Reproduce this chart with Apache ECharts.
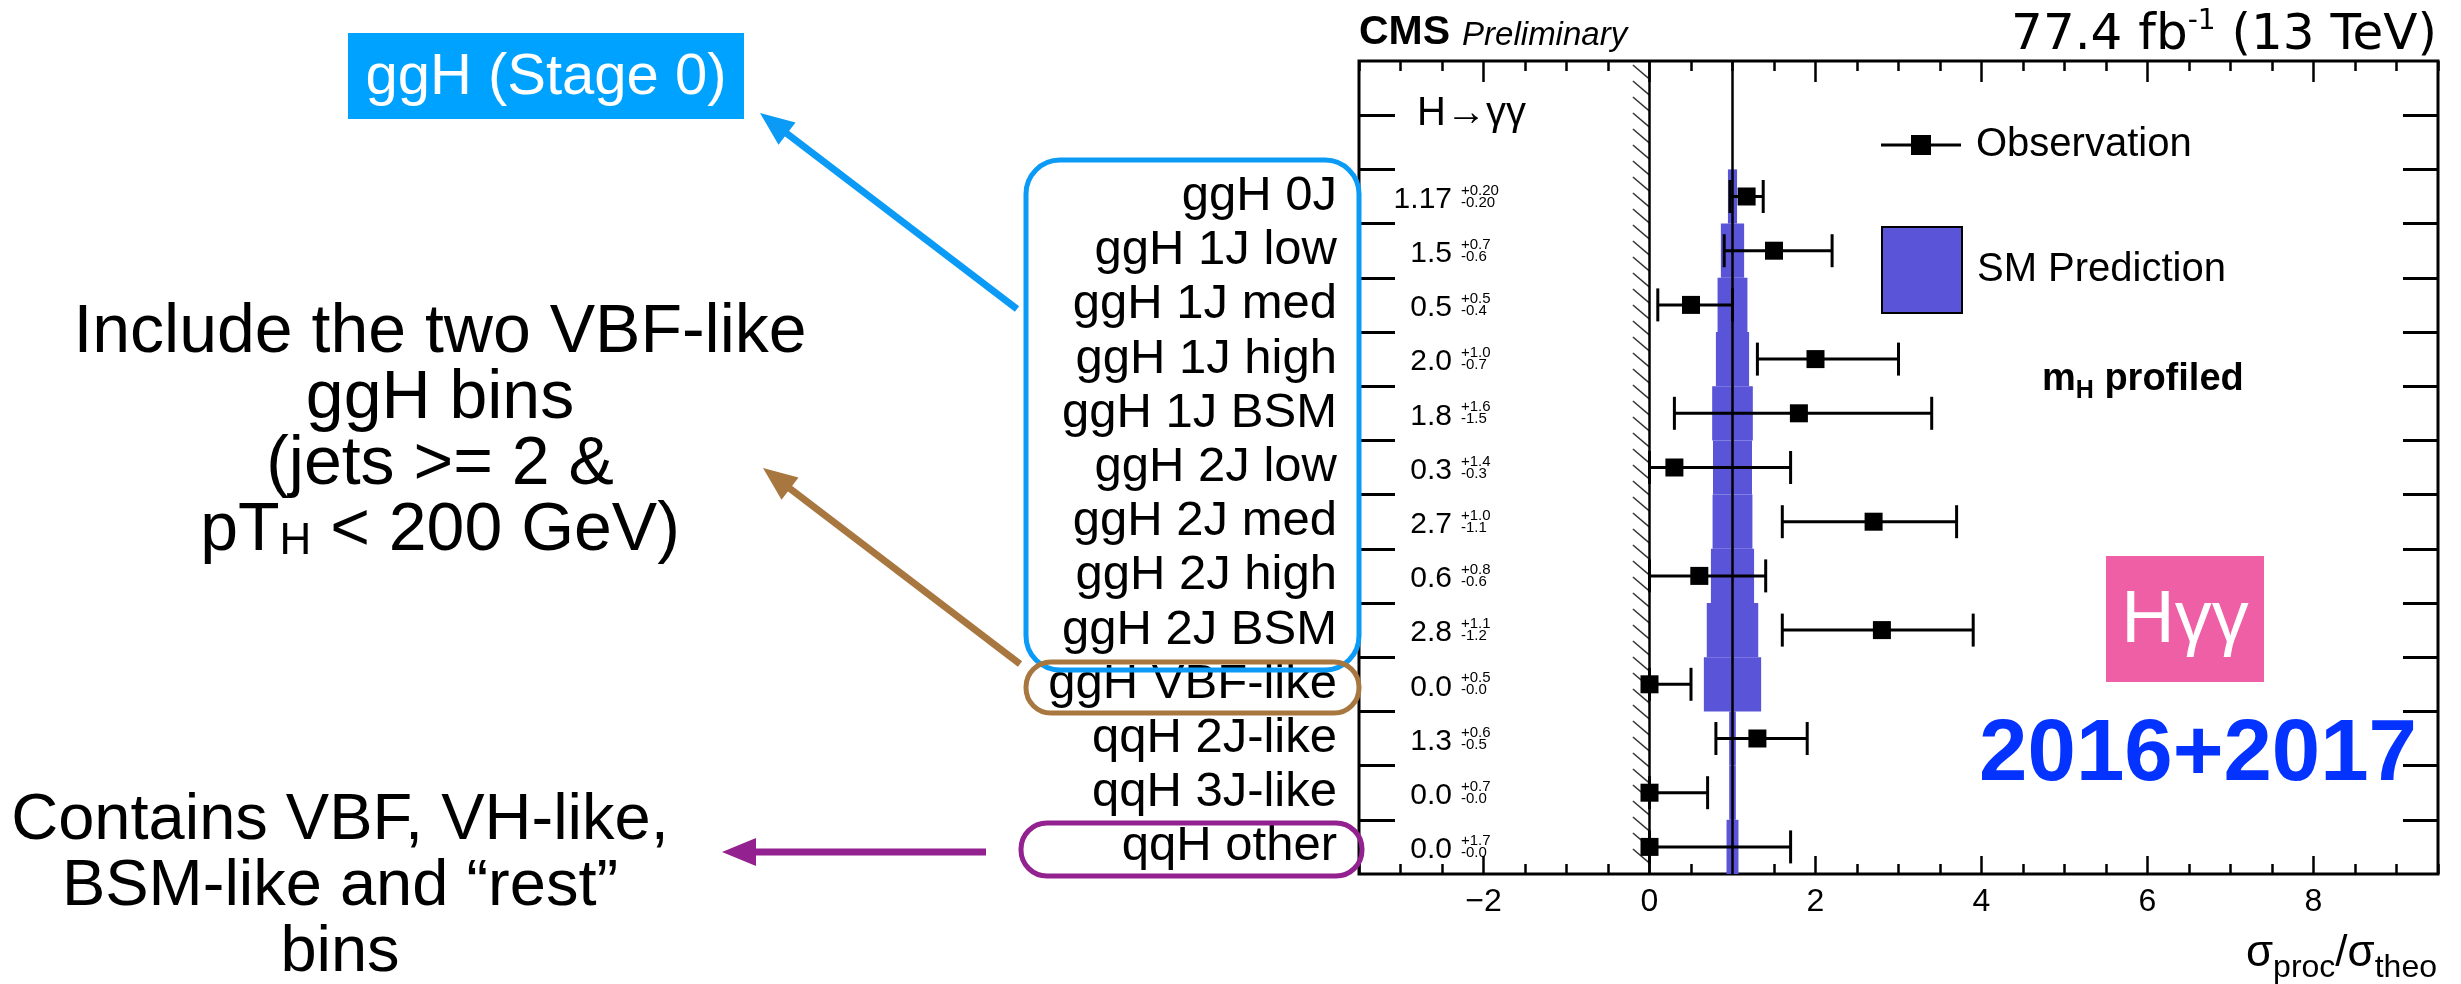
<!DOCTYPE html>
<html><head><meta charset="utf-8">
<script src="https://cdn.jsdelivr.net/npm/echarts@6/dist/echarts.min.js"></script>
<style>html,body{margin:0;padding:0;background:#fff}#c{width:2461px;height:984px}</style>
</head><body><div id="c"></div>
<script>
// ---------------- data ----------------
const categories = ['ggH 0J','ggH 1J low','ggH 1J med','ggH 1J high','ggH 1J BSM','ggH 2J low','ggH 2J med','ggH 2J high','ggH 2J BSM','ggH VBF-like','qqH 2J-like','qqH 3J-like','qqH other'];
const observed  = [1.17, 1.5, 0.5, 2.0, 1.8, 0.3, 2.7, 0.6, 2.8, 0.0, 1.3, 0.0, 0.0];
const errUp     = [0.20, 0.7, 0.5, 1.0, 1.6, 1.4, 1.0, 0.8, 1.1, 0.5, 0.6, 0.7, 1.7];
const errDown   = [0.20, 0.6, 0.4, 0.7, 1.5, 0.3, 1.1, 0.6, 1.2, 0.0, 0.5, 0.0, 0.0];
const valueText = ['1.17','1.5','0.5','2.0','1.8','0.3','2.7','0.6','2.8','0.0','1.3','0.0','0.0'];
const upText    = ['+0.20','+0.7','+0.5','+1.0','+1.6','+1.4','+1.0','+0.8','+1.1','+0.5','+0.6','+0.7','+1.7'];
const downText  = ['-0.20','-0.6','-0.4','-0.7','-1.5','-0.3','-1.1','-0.6','-1.2','-0.0','-0.5','-0.0','-0.0'];
const smPrediction = 1.0;
const smHalfWidth = [0.055, 0.14, 0.18, 0.20, 0.245, 0.235, 0.24, 0.26, 0.31, 0.345, 0.04, 0.04, 0.072];
const physicalLimit = 0;
const xMajorTicks = [-2, 0, 2, 4, 6, 8];
const xMinorTicks = [-3.5,-3,-2.5,-2,-1.5,-1,-0.5,0,0.5,1,1.5,2,2.5,3,3.5,4,4.5,5,5.5,6,6.5,7,7.5,8,8.5,9,9.5];
const yTicks = [1,2,3,4,5,6,7,8,9,10,11,12,13,14];

// ---------------- helpers ----------------
const FONT = '"Liberation Sans", Arial, Helvetica, sans-serif';
const WIDE = '"DejaVu Sans", "Liberation Sans", sans-serif';
const nRows = categories.length;
const yMax = nRows + 2;
const rowY = i => nRows - 0.5 - i;
const rowCenters = categories.map((c, i) => rowY(i));
const labelOf = v => { const i = Math.round(nRows - 0.5 - v); return categories[i] || ''; };

const obsData = categories.map((c, i) => [observed[i], rowY(i), observed[i] - errDown[i], observed[i] + errUp[i]]);
const bandData = categories.map((c, i) => [smPrediction - smHalfWidth[i], rowY(i), smPrediction + smHalfWidth[i]]);
const textData = categories.map((c, i) => [-3.5, rowY(i)]);

const BLUE = '#0b9bf6', BROWN = '#a8773f', PURPLE = '#93218f';

function arrow(x1, y1, x2, y2, color) {
  const dx = x2 - x1, dy = y2 - y1, L = Math.hypot(dx, dy);
  const ux = dx / L, uy = dy / L, hl = 34, hw = 14;
  const bx = x2 - ux * hl, by = y2 - uy * hl;
  return [
    {type:'line', shape:{x1:x1, y1:y1, x2:bx + ux*4, y2:by + uy*4}, style:{stroke:color, lineWidth:7}},
    {type:'polygon', shape:{points:[[x2,y2],[bx - uy*hw, by + ux*hw],[bx + uy*hw, by - ux*hw]]}, style:{fill:color}}
  ];
}

const chart = echarts.init(document.getElementById('c'), null, {renderer:'canvas', width:2461, height:984});

const axisCommon = {type:'value', min:-3.5, max:9.5, axisLine:{show:false, onZero:false}, splitLine:{show:false}};
const tickStyle = {color:'#000', width:2.5};
const option = {
  animation: false,
  backgroundColor: '#fff',
  grid: {left:1359, right:23, top:61, bottom:110, show:true, borderColor:'#000', borderWidth:3, backgroundColor:'transparent', outerBoundsMode:'none'},
  xAxis: [
    Object.assign({}, axisCommon, {position:'bottom',
      axisTick:{show:true, inside:true, length:18, customValues:xMajorTicks, lineStyle:tickStyle},
      axisLabel:{customValues:xMajorTicks, margin:12, fontSize:32, fontFamily:FONT, color:'#000',
        formatter: v => v < 0 ? '\u2212' + Math.abs(v) : String(v)}}),
    Object.assign({}, axisCommon, {position:'bottom',
      axisTick:{show:true, inside:true, length:10, customValues:xMinorTicks, lineStyle:tickStyle},
      axisLabel:{show:false}}),
    Object.assign({}, axisCommon, {position:'top',
      axisTick:{show:true, inside:true, length:21, customValues:xMajorTicks, lineStyle:tickStyle},
      axisLabel:{show:false}}),
    Object.assign({}, axisCommon, {position:'top',
      axisTick:{show:true, inside:true, length:10, customValues:xMinorTicks, lineStyle:tickStyle},
      axisLabel:{show:false}})
  ],
  yAxis: [
    {type:'value', min:0, max:yMax, interval:1, position:'left', axisLine:{show:false, onZero:false}, splitLine:{show:false},
     axisTick:{show:true, inside:true, length:36, customValues:yTicks, lineStyle:{color:'#000', width:3}},
     axisLabel:{customValues:rowCenters, formatter:labelOf, margin:22, fontSize:49, fontFamily:FONT, color:'#000'}},
    {type:'value', min:0, max:yMax, interval:1, position:'right', axisLine:{show:false, onZero:false}, splitLine:{show:false},
     axisTick:{show:true, inside:true, length:35, customValues:yTicks, lineStyle:{color:'#000', width:3}},
     axisLabel:{show:false}}
  ],
  legend: [
    {data:[{name:'Observation', icon:'path://M0,8.5L30,8.5L30,0L50,0L50,8.5L80,8.5L80,11.5L50,11.5L50,20L30,20L30,11.5L0,11.5Z'}],
     left:1881, top:125, padding:0, itemWidth:80, itemHeight:20, selectedMode:false,
     textStyle:{fontSize:40, fontFamily:FONT, color:'#000', padding:[0,0,0,10]}},
    {data:[{name:'SM Prediction', icon:'rect', itemStyle:{borderColor:'#000', borderWidth:2}}],
     left:1881, top:226, padding:0, itemWidth:80, itemHeight:86, selectedMode:false,
     textStyle:{fontSize:40, fontFamily:FONT, color:'#000', padding:[0,0,0,10]}}
  ],
  series: [
    { // hatched physical boundary
      type:'custom', name:'limit', xAxisIndex:0, yAxisIndex:0, silent:true, z:2,
      data:[[physicalLimit]],
      renderItem: (params, api) => {
        const top = api.coord([api.value(0), yMax])[1];
        const bot = api.coord([api.value(0), 0])[1];
        const xr = api.coord([api.value(0), 0])[0];
        const xl = api.coord([api.value(0) - 0.2, 0])[0];
        const w = xr - xl, h = w * 0.85, ch = [];
        for (let y = top + 4; y + h <= bot; y += 16) {
          ch.push({type:'line', shape:{x1:xl, y1:y, x2:xr, y2:y + h}, style:{stroke:'#333', lineWidth:1.5}});
        }
        return {type:'group', children:ch};
      }
    },
    { // SM prediction band
      type:'custom', name:'SM Prediction', xAxisIndex:0, yAxisIndex:0, z:3,
      itemStyle:{color:'#5a54d8'},
      data: bandData,
      encode:{x:[0,2], y:1},
      renderItem: (params, api) => {
        const p0 = api.coord([api.value(0), api.value(1) + 0.5]);
        const p1 = api.coord([api.value(2), api.value(1) - 0.5]);
        return {type:'rect', shape:{x:p0[0], y:p0[1], width:p1[0]-p0[0], height:p1[1]-p0[1]}, style:{fill:'#5a54d8'}};
      },
      markLine: {silent:true, symbol:'none', label:{show:false}, lineStyle:{color:'#000', width:2.5, type:'solid'},
        data:[{xAxis:smPrediction}, {xAxis:physicalLimit}]}
    },
    { // observations with asymmetric errors
      type:'custom', name:'Observation', xAxisIndex:0, yAxisIndex:0, z:5,
      itemStyle:{color:'#000'},
      data: obsData,
      encode:{x:[0,2,3], y:1},
      renderItem: (params, api) => {
        const y = api.value(1);
        const c = api.coord([api.value(0), y]);
        const lo = api.coord([api.value(2), y]);
        const hi = api.coord([api.value(3), y]);
        const s = 18, cap = 16.5;
        return {type:'group', children:[
          {type:'line', shape:{x1:lo[0], y1:c[1], x2:hi[0], y2:c[1]}, style:{stroke:'#000', lineWidth:3}},
          {type:'line', shape:{x1:lo[0], y1:c[1]-cap, x2:lo[0], y2:c[1]+cap}, style:{stroke:'#000', lineWidth:3}},
          {type:'line', shape:{x1:hi[0], y1:c[1]-cap, x2:hi[0], y2:c[1]+cap}, style:{stroke:'#000', lineWidth:3}},
          {type:'rect', shape:{x:c[0]-s/2, y:c[1]-s/2, width:s, height:s}, style:{fill:'#000'}}
        ]};
      }
    },
    { // numeric results column
      type:'custom', name:'values', xAxisIndex:0, yAxisIndex:0, z:6, silent:true, clip:false,
      data: textData,
      renderItem: (params, api) => {
        const i = params.dataIndex;
        const p = api.coord([api.value(0), api.value(1)]);
        const xr = p[0] + 93, xs = p[0] + 102;
        return {type:'group', children:[
          {type:'text', style:{x:xr, y:p[1]+3, text:valueText[i], align:'right', verticalAlign:'middle', font:'30px ' + FONT, fill:'#000'}},
          {type:'text', style:{x:xs, y:p[1]-6, text:upText[i], align:'left', verticalAlign:'middle', font:'15px ' + FONT, fill:'#000'}},
          {type:'text', style:{x:xs, y:p[1]+6, text:downText[i], align:'left', verticalAlign:'middle', font:'15px ' + FONT, fill:'#000'}}
        ]};
      }
    }
  ],
  graphic: [].concat(
    [
      {type:'text', left:1359, top:12, style:{rich:{b:{font:'bold 41px ' + FONT, fill:'#000'}, i:{font:'italic 33px ' + FONT, fill:'#000', padding:[7,0,0,12]}},
        text:'{b|CMS}{i|Preliminary}'}},
      {type:'text', right:24, top:8, style:{rich:{n:{font:'50px ' + WIDE, fill:'#000', lineHeight:56}, s:{font:'28px ' + WIDE, fill:'#000', verticalAlign:'top', lineHeight:28}},
        text:'{n|77.4 fb}{s|-1}{n| (13 TeV)}'}},
      {type:'text', x:1417, y:114, style:{text:'H\u2192\u03b3\u03b3', font:'40px ' + FONT, fill:'#000', verticalAlign:'middle'}},
      {type:'text', x:2042, y:380, style:{verticalAlign:'middle', rich:{b:{font:'bold 38px ' + FONT, fill:'#000', lineHeight:48}, s:{font:'bold 25px ' + FONT, fill:'#000', verticalAlign:'bottom', lineHeight:25}},
        text:'{b|m}{s|H}{b| profiled}'}},
      {type:'rect', shape:{x:2106, y:556, width:158, height:126}, style:{fill:'#ee5fa5'}},
      {type:'text', x:2185, y:622, style:{text:'H\u03b3\u03b3', font:'74px ' + FONT, fill:'#fff', align:'center', verticalAlign:'middle'}},
      {type:'text', x:2417, y:756, style:{text:'2016+2017', font:'bold 87px ' + FONT, fill:'#0433ff', align:'right', verticalAlign:'middle'}},
      {type:'text', x:2437, y:954, style:{align:'right', verticalAlign:'middle', rich:{n:{font:'44px ' + FONT, fill:'#000', lineHeight:60}, s:{font:'32px ' + FONT, fill:'#000', verticalAlign:'bottom', lineHeight:32}},
        text:'{n|\u03c3}{s|proc}{n|/\u03c3}{s|theo}'}},
      // left annotations
      {type:'rect', shape:{x:348, y:33, width:396, height:86}, style:{fill:'#00a2ff'}},
      {type:'text', x:546, y:78, style:{text:'ggH (Stage 0)', font:'58px ' + FONT, fill:'#fff', align:'center', verticalAlign:'middle'}},
      {type:'text', x:440, y:300, style:{align:'center', verticalAlign:'top', rich:{t:{font:'68px ' + FONT, fill:'#000', lineHeight:66}, s:{font:'44px ' + FONT, fill:'#000', verticalAlign:'bottom', lineHeight:44}},
        text:'{t|Include the two VBF-like}\n{t|ggH bins}\n{t|(jets >= 2 &}\n{t|pT}{s|H}{t| < 200 GeV)}'}},
      {type:'text', x:340, y:788, style:{align:'center', verticalAlign:'top', rich:{t:{font:'65px ' + FONT, fill:'#000', lineHeight:66}},
        text:'{t|Contains VBF, VH-like,}\n{t|BSM-like and \u201crest\u201d}\n{t|bins}'}},
      {type:'rect', shape:{x:1026, y:160, width:333, height:510, r:34}, style:{fill:'none', stroke:BLUE, lineWidth:5}, z:10},
      {type:'rect', shape:{x:1026, y:662, width:333, height:51, r:25}, style:{fill:'none', stroke:BROWN, lineWidth:5}, z:10},
      {type:'rect', shape:{x:1021, y:823, width:341, height:53, r:26}, style:{fill:'none', stroke:PURPLE, lineWidth:5}, z:10}
    ],
    arrow(1017, 309, 760, 113, BLUE),
    arrow(1020, 664, 763, 468, BROWN),
    arrow(986, 852, 722, 852, PURPLE)
  )
};
chart.setOption(option);
</script>
</body></html>
